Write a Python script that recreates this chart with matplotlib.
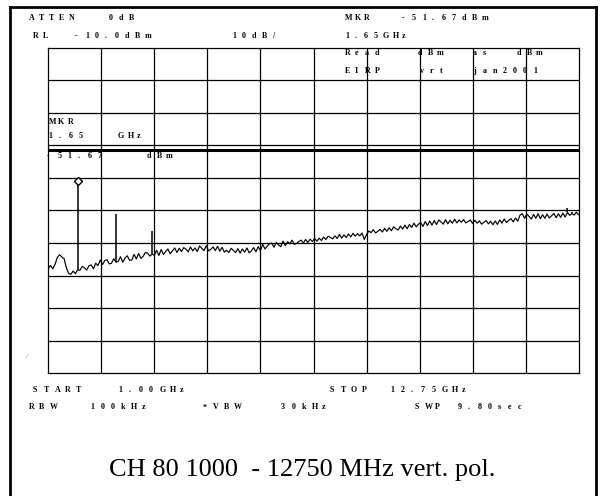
import numpy as np
import matplotlib
matplotlib.use("Agg")
import matplotlib.pyplot as plt
from matplotlib.lines import Line2D

# analyzer settings
f_start, f_stop = 1.00, 12.75      # GHz
ref_level, db_div = -10.0, 10.0    # dBm, dB/div
display_line = -41.4               # dBm
marker_freq, marker_level = 1.65, -50.8

# noise floor trace, 0.05 GHz steps from 1.00 GHz
trace = [
    -77.8, -76.9, -77.9, -76.5, -74.4, -73.6, -74.3, -74.8, -77.6, -79.3,
    -79.6, -78.6, -79.4, -78.2, -78.4, -77.2, -77.6, -78.3, -77.0, -76.7,
    -77.9, -76.2, -76.9, -75.2, -76.6, -75.4, -75.1, -76.4, -76.2, -74.8,
    -75.9, -75.6, -74.2, -75.9, -74.6, -73.9, -75.3, -75.2, -73.5, -74.9,
    -73.2, -74.7, -74.1, -72.9, -73.1, -74.0, -73.4, -73.8, -72.2, -73.8,
    -72.0, -73.5, -72.6, -71.8, -73.3, -72.4, -71.5, -72.9, -71.6, -72.6,
    -71.4, -71.9, -72.7, -71.2, -72.4, -71.5, -72.6, -70.9, -71.6, -72.3,
    -70.8, -72.4, -71.9, -71.2, -72.3, -71.0, -72.5, -71.3, -72.8, -72.2,
    -72.9, -71.6, -72.3, -72.9, -71.7, -73.1, -71.8, -72.8, -71.5, -73.0,
    -72.4, -71.4, -72.7, -71.1, -72.3, -70.4, -71.8, -71.0, -70.2, -70.0,
    -71.3, -69.8, -70.6, -71.1, -69.4, -70.8, -69.6, -70.2, -69.1, -70.4,
    -70.1, -69.5, -69.1, -70.0, -68.9, -69.8, -68.8, -69.5, -68.6, -69.4,
    -68.5, -69.2, -68.2, -68.9, -67.9, -68.3, -68.7, -67.8, -68.6, -67.3,
    -68.5, -67.5, -68.3, -67.2, -68.1, -67.0, -67.9, -67.1, -67.8, -66.9,
    -68.9, -67.4, -66.3, -66.8, -65.9, -66.9, -66.4, -65.8, -66.6, -65.5,
    -66.4, -65.3, -66.2, -65.0, -65.6, -66.0, -64.8, -65.7, -64.5, -65.6,
    -64.3, -65.2, -63.9, -65.0, -64.2, -63.7, -64.9, -63.4, -64.6, -63.2,
    -64.5, -63.1, -64.3, -62.9, -63.5, -64.2, -62.8, -64.1, -63.0, -63.9,
    -62.7, -63.8, -62.9, -63.6, -62.8, -63.8, -63.4, -62.9, -64.0, -63.0,
    -63.9, -63.2, -64.2, -63.6, -63.1, -64.1, -63.3, -64.4, -63.2, -64.3,
    -62.9, -63.9, -62.6, -63.7, -63.0, -62.5, -63.5, -62.3, -63.3, -61.4,
    -61.0, -62.4, -61.1, -61.8, -62.6, -61.2, -62.4, -61.0, -62.5, -61.3,
    -62.4, -61.1, -62.3, -61.6, -60.9, -62.2, -61.0, -62.1, -60.8, -62.0,
    -60.6, -61.5, -60.9, -61.4, -60.5, -61.3,
]
freqs = np.linspace(f_start, f_stop, len(trace))

# narrow spurs on top of the floor
spur_freqs = [1.65, 2.50, 3.30, 12.50, 12.60]
spur_levels = [-50.8, -61.0, -66.3, -59.3, -60.4]

# annotation texts (string, x px, y px, pitch px)
header = [
    ("ATTEN", 29, 17.7, 10), ("0dB", 109, 17.7, 10),
    ("RL", 33, 36, 10), ("-10.0dBm", 75, 36, 10), ("10dB/", 232, 36, 10),
    ("MKR", 345, 17.7, 9.5), ("-51.67dBm", 402, 17.7, 10),
    ("1.65GHz", 345, 36, 9.5),
    ("START", 33, 390, 10.8), ("1.00GHz", 118, 390, 10.3),
    ("STOP", 330, 390, 10.5), ("12.75GHz", 390, 390, 10.3),
    ("RBW", 29, 407.3, 10.3), ("100kHz", 90, 407.3, 10.3),
    ("*VBW", 203, 407.3, 10.3), ("30kHz", 281, 407.3, 10.3),
    ("SWP", 415, 407.3, 10), ("9.80sec", 458, 407.3, 10),
]
in_grid = [
    ("Read", 345, 53.3, 10), ("dBm", 418, 53.3, 9.5),
    ("as", 473, 53.3, 10), ("dBm", 517, 53.3, 9.5),
    ("EIRP", 345, 71, 10), ("vrt", 420, 71, 10), ("jan2001", 473, 71, 10),
    ("MKR", 48.5, 121.7, 9.5), ("1.65", 48.5, 136.3, 10), ("GHz", 118, 136.3, 9.5),
    ("-51.67", 47, 155.7, 10.2), ("dBm", 147, 155.7, 9.5),
]
title = "CH 80 1000  - 12750 MHz vert. pol."

W, H = 605, 496
fig = plt.figure(figsize=(W / 100, H / 100), dpi=100)
fig.patch.set_facecolor("white")

gl, gr, gt, gb = 48.3, 578.7, 47.7, 373.3
ax = fig.add_axes([gl / W, 1 - gb / H, (gr - gl) / W, (gb - gt) / H])
ax.set_xlim(f_start, f_stop)
ax.set_ylim(ref_level - 10 * db_div, ref_level)
ax.set_xticks([])
ax.set_yticks([])
for sp in ax.spines.values():
    sp.set_linewidth(0.9)
    sp.set_zorder(3)

# graticule
span = (f_stop - f_start) / 10
for k in range(1, 10):
    ax.axvline(f_start + k * span, color="k", lw=0.9, zorder=3)
    ax.axhline(ref_level - k * db_div, color="k", lw=0.9, zorder=3)
ax.axhline(display_line, color="k", lw=2.2, zorder=3)

ax.plot(freqs, trace, color="k", lw=0.85, zorder=4)
ax.vlines(spur_freqs, np.interp(spur_freqs, freqs, trace), spur_levels,
          color="k", lw=1.1, zorder=4)
ax.plot([marker_freq], [marker_level], marker="D", ms=4.5, mfc="white",
        mec="k", mew=1.0, zorder=5)


def spaced(target, s, x, y, pitch, z=5):
    for i, ch in enumerate(s):
        if ch == " ":
            continue
        target.text((x + i * pitch) / W, 1 - y / H, ch, transform=fig.transFigure,
                    family="Liberation Serif", weight="bold", fontsize=5.8,
                    ha="left", va="center", zorder=z)


for s, x, y, p in header:
    spaced(fig, s, x, y, p)
for s, x, y, p in in_grid:
    spaced(ax, s, x, y, p, z=1)

fig.text(26 / W, 1 - 357 / H, "/", fontsize=5, color="0.4", ha="center",
         va="center", family="Liberation Serif", style="italic")

fig.text(302 / W, 1 - 476 / H, title, family="Liberation Serif", fontsize=19,
         ha="center", va="baseline")

# outer frame
for xs, ys in [([10, 10], [H, 6.5]), ([10, 596], [6.5, 6.5]), ([596, 596], [6.5, H])]:
    fig.add_artist(Line2D([x / W for x in xs], [1 - y / H for y in ys],
                          transform=fig.transFigure, color="k", lw=2.0,
                          solid_capstyle="projecting"))

fig.savefig("out.png", dpi=100)
